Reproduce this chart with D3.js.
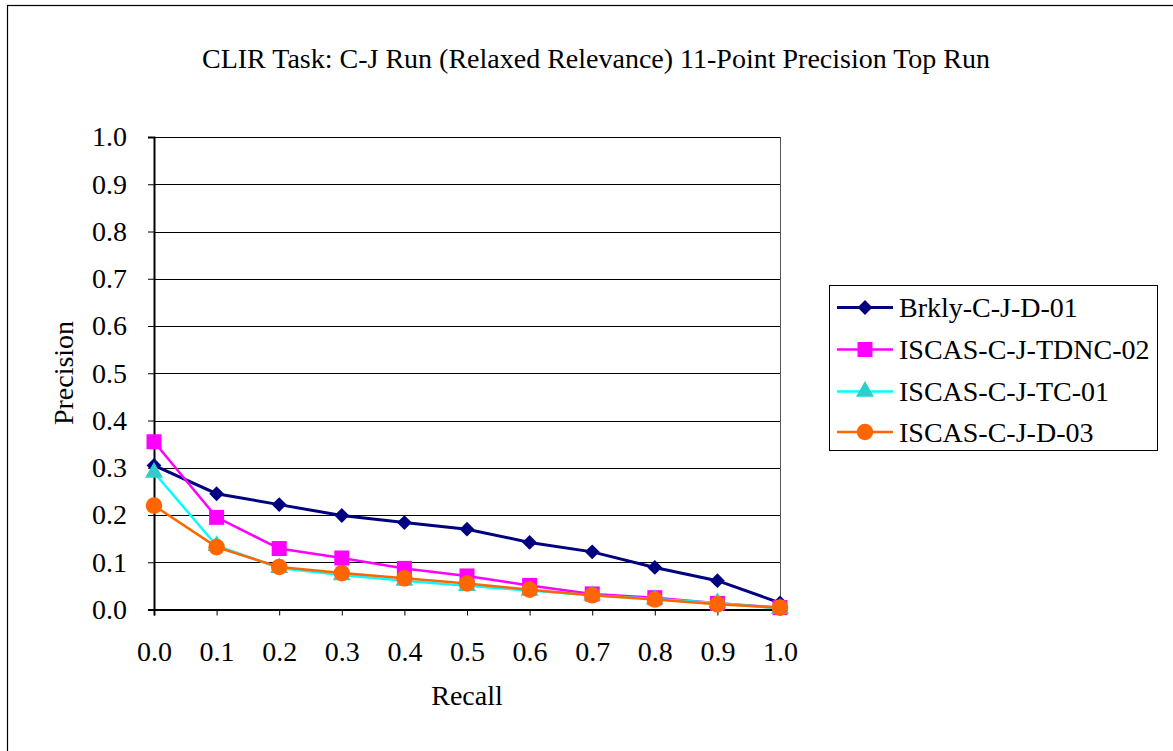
<!DOCTYPE html>
<html>
<head>
<meta charset="utf-8">
<script src="https://cdn.jsdelivr.net/npm/d3@7"></script>
<style>
  html, body { margin: 0; padding: 0; background: #fff; }
  svg { display: block; }
  svg text { font-family: "Liberation Serif", "Times New Roman", serif; fill: #000; }
</style>
</head>
<body>
<svg id="chart" width="1173" height="751"></svg>
<script>
// Recall levels on the x axis
const recall = [0.0, 0.1, 0.2, 0.3, 0.4, 0.5, 0.6, 0.7, 0.8, 0.9, 1.0];

// Interpolated precision at each recall level, one array per run
const brklyCJD01     = [0.305, 0.245, 0.222, 0.199, 0.184, 0.170, 0.142, 0.122, 0.089, 0.061, 0.014];
const iscasCJTDNC02  = [0.355, 0.195, 0.129, 0.109, 0.087, 0.071, 0.051, 0.033, 0.025, 0.013, 0.004];
const iscasCJTC01    = [0.290, 0.135, 0.088, 0.073, 0.061, 0.050, 0.040, 0.030, 0.022, 0.014, 0.002];
const iscasCJD03     = [0.220, 0.132, 0.090, 0.077, 0.066, 0.055, 0.042, 0.030, 0.021, 0.011, 0.004];

const seriesNames = ["Brkly-C-J-D-01", "ISCAS-C-J-TDNC-02", "ISCAS-C-J-TC-01", "ISCAS-C-J-D-03"];
const yTicks = [0.0, 0.1, 0.2, 0.3, 0.4, 0.5, 0.6, 0.7, 0.8, 0.9, 1.0];

const titleText = "CLIR Task: C-J Run (Relaxed Relevance) 11-Point Precision Top Run";

const FONT = "Liberation Serif, Times New Roman, serif";
const FS = 28;

const styles = [
  { line: "#000080", fill: "#000080", marker: "diamond" },
  { line: "#FF00FF", fill: "#FF00FF", marker: "square" },
  { line: "#00FFFF", fill: "#33CCCC", marker: "triangle" },
  { line: "#FF6600", fill: "#FF6600", marker: "circle" }
];

const series = [brklyCJD01, iscasCJTDNC02, iscasCJTC01, iscasCJD03].map((vals, i) => ({
  name: seriesNames[i],
  values: vals.map((v, j) => ({ x: recall[j], y: v })),
  style: styles[i]
}));

const svg = d3.select("#chart");

// outer chart frame
svg.append("rect")
  .attr("x", 7.5).attr("y", 5.5)
  .attr("width", 1180).attr("height", 760)
  .attr("fill", "#fff").attr("stroke", "#000").attr("stroke-width", 1.2);

const plot = { left: 154, right: 780, top: 137, bottom: 609.5 };

const x = d3.scaleLinear().domain([0, 1]).range([plot.left, plot.right]);
const y = d3.scaleLinear().domain([0, 1]).range([plot.bottom, plot.top]);

// title
svg.append("text")
  .attr("x", 596).attr("y", 68)
  .attr("text-anchor", "middle")
  .attr("font-family", FONT)
  .attr("font-size", FS)
  .text(titleText);

// horizontal gridlines
svg.append("g")
  .selectAll("line")
  .data(yTicks.filter(t => t > 0))
  .join("line")
  .attr("x1", plot.left).attr("x2", plot.right)
  .attr("y1", d => Math.round(y(d)) + 0.5).attr("y2", d => Math.round(y(d)) + 0.5)
  .attr("stroke", "#000").attr("stroke-width", 1);

// right border of plot area
svg.append("line")
  .attr("x1", plot.right + 0.5).attr("x2", plot.right + 0.5)
  .attr("y1", plot.top).attr("y2", plot.bottom)
  .attr("stroke", "#555").attr("stroke-width", 1);

// y axis
const yAxis = d3.axisLeft(y)
  .tickValues(yTicks)
  .tickFormat(d3.format(".1f"))
  .tickSize(6)
  .tickPadding(21);
const gy = svg.append("g")
  .attr("transform", `translate(${plot.left},0)`)
  .call(yAxis)
  .attr("font-family", FONT)
  .attr("font-size", FS);
gy.select(".domain").attr("stroke", "#000").attr("stroke-width", 2);
gy.selectAll(".tick line").attr("stroke", "#000");
gy.selectAll(".tick text").attr("fill", "#000");

// x axis
const xAxis = d3.axisBottom(x)
  .tickValues(recall)
  .tickFormat(d3.format(".1f"))
  .tickSize(6)
  .tickPadding(26);
const gx = svg.append("g")
  .attr("transform", `translate(0,${plot.bottom})`)
  .call(xAxis)
  .attr("font-family", FONT)
  .attr("font-size", FS);
gx.select(".domain").attr("stroke", "#000").attr("stroke-width", 2);
gx.selectAll(".tick line").attr("stroke", "#000");
gx.selectAll(".tick text").attr("fill", "#000");

// axis titles
svg.append("text")
  .attr("x", 467).attr("y", 705)
  .attr("text-anchor", "middle")
  .attr("font-family", FONT)
  .attr("font-size", FS)
  .text("Recall");

svg.append("text")
  .attr("transform", "translate(73,373) rotate(-90)")
  .attr("text-anchor", "middle")
  .attr("font-family", FONT)
  .attr("font-size", FS)
  .text("Precision");

// marker shapes
const symbolFor = {
  diamond: d3.symbol().type(d3.symbolDiamond2).size(140),
  square: d3.symbol().type(d3.symbolSquare).size(225),
  triangle: d3.symbol().type(d3.symbolTriangle).size(140),
  circle: d3.symbol().type(d3.symbolCircle).size(215)
};

function drawMarker(g, style, cx, cy) {
  g.append("path")
    .attr("d", symbolFor[style.marker]())
    .attr("transform", `translate(${cx},${cy})`)
    .attr("fill", style.fill)
    .attr("stroke", "none");
}

const line = d3.line().x(d => x(d.x)).y(d => y(d.y));

const gSeries = svg.append("g");
series.forEach(s => {
  const g = gSeries.append("g");
  g.append("path")
    .datum(s.values)
    .attr("d", line)
    .attr("fill", "none")
    .attr("stroke", s.style.line)
    .attr("stroke-width", s.style.marker === "diamond" ? 3 : 2.5);
  s.values.forEach(d => drawMarker(g, s.style, x(d.x), y(d.y)));
});

// legend
const legend = svg.append("g");
legend.append("rect")
  .attr("x", 829.5).attr("y", 285.5)
  .attr("width", 328).attr("height", 165)
  .attr("fill", "#fff").attr("stroke", "#000").attr("stroke-width", 1);

const legendY = [307.5, 349.5, 391.5, 432];
series.forEach((s, i) => {
  const ly = legendY[i];
  legend.append("line")
    .attr("x1", 837).attr("x2", 893)
    .attr("y1", ly).attr("y2", ly)
    .attr("stroke", s.style.line)
    .attr("stroke-width", s.style.marker === "diamond" ? 3 : 2.5);
  drawMarker(legend, s.style, 865, ly);
  legend.append("text")
    .attr("x", 899).attr("y", ly)
    .attr("dy", "0.35em")
    .attr("font-family", FONT)
    .attr("font-size", FS)
    .text(s.name);
});
</script>
</body>
</html>
